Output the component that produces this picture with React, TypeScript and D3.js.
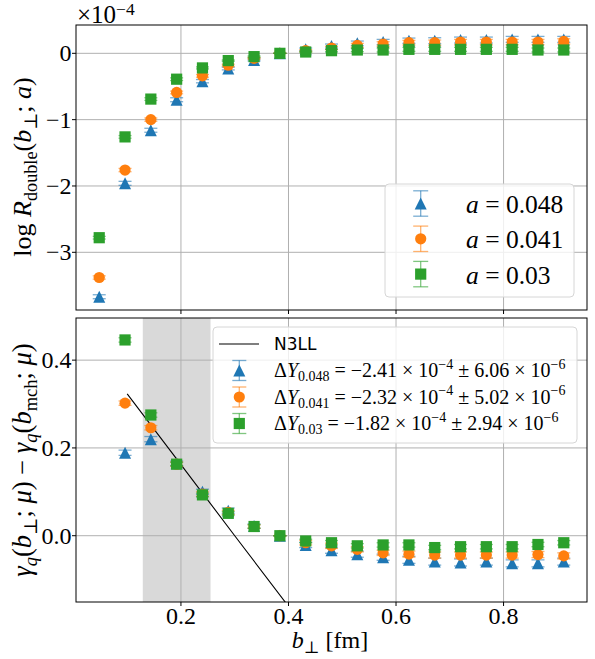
import React from "react";
import { scaleLinear, line } from "d3";

// b_perp values (fm)
const bTop = [0.048, 0.096, 0.144, 0.192, 0.24, 0.288, 0.336, 0.384, 0.432, 0.48, 0.528, 0.576, 0.624, 0.672, 0.72, 0.768, 0.816, 0.864, 0.912];
const bBot = [0.096, 0.144, 0.192, 0.24, 0.288, 0.336, 0.384, 0.432, 0.48, 0.528, 0.576, 0.624, 0.672, 0.72, 0.768, 0.816, 0.864, 0.912];

// log R_double, units of 1e-4
const logR048 = [-3.67, -1.96, -1.16, -0.7, -0.42, -0.23, -0.1, 0, 0.06, 0.11, 0.15, 0.17, 0.19, 0.19, 0.2, 0.2, 0.21, 0.21, 0.21];
const logR041 = [-3.38, -1.76, -1.0, -0.59, -0.34, -0.18, -0.075, 0, 0.04, 0.08, 0.12, 0.14, 0.16, 0.16, 0.17, 0.17, 0.17, 0.17, 0.18];
const logR030 = [-2.78, -1.26, -0.69, -0.39, -0.22, -0.11, -0.05, 0, 0.02, 0.04, 0.05, 0.05, 0.06, 0.06, 0.06, 0.06, 0.06, 0.05, 0.05];
const errTop048 = [0.03, 0.03, 0.03, 0.03, 0.025, 0.02, 0.015, 0, 0.02, 0.03, 0.035, 0.04, 0.04, 0.045, 0.045, 0.045, 0.045, 0.045, 0.045];
const errTop041 = [0.025, 0.025, 0.025, 0.02, 0.02, 0.015, 0.01, 0, 0.015, 0.025, 0.03, 0.035, 0.035, 0.04, 0.04, 0.04, 0.04, 0.04, 0.04];
const errTop030 = [0.02, 0.02, 0.02, 0.02, 0.015, 0.01, 0.01, 0, 0.01, 0.02, 0.025, 0.03, 0.03, 0.03, 0.03, 0.03, 0.03, 0.03, 0.03];

// gamma_q(b) - gamma_q(b_mch)
const gam048 = [0.189, 0.22, 0.165, 0.1, 0.057, 0.022, 0, -0.021, -0.033, -0.042, -0.049, -0.055, -0.059, -0.061, -0.059, -0.063, -0.063, -0.059];
const gam041 = [0.302, 0.246, 0.163, 0.095, 0.053, 0.021, 0, -0.016, -0.023, -0.031, -0.039, -0.042, -0.044, -0.044, -0.044, -0.044, -0.043, -0.046];
const gam030 = [0.446, 0.275, 0.163, 0.093, 0.051, 0.021, 0, -0.012, -0.016, -0.023, -0.021, -0.021, -0.027, -0.025, -0.025, -0.025, -0.02, -0.016];
const errBot048 = [0.006, 0.006, 0.005, 0.006, 0.006, 0.005, 0, 0.006, 0.007, 0.007, 0.007, 0.008, 0.008, 0.008, 0.008, 0.008, 0.008, 0.008];
const errBot041 = [0.005, 0.005, 0.005, 0.005, 0.005, 0.004, 0, 0.005, 0.006, 0.006, 0.006, 0.007, 0.007, 0.007, 0.007, 0.007, 0.007, 0.007];
const errBot030 = [0.005, 0.005, 0.004, 0.004, 0.004, 0.004, 0, 0.004, 0.005, 0.005, 0.005, 0.005, 0.005, 0.005, 0.005, 0.005, 0.005, 0.005];

// N3LL curve
const n3llB = [0.1, 0.2, 0.3, 0.4];
const n3llV = [0.323, 0.162, 0.0, -0.161];

// matching window
const band = [0.129, 0.255];

const xTicks = [0.2, 0.4, 0.6, 0.8];
const yTicksTop = [0, -1, -2, -3];
const yTicksBot = [0.0, 0.2, 0.4];

const C_BLUE = "#1f77b4";
const C_ORANGE = "#ff7f0e";
const C_GREEN = "#2ca02c";
const SERIF = "'Liberation Serif', 'DejaVu Serif', serif";

const L = 76, R = 587;
const TOP = { t: 25, b: 310 };
const BOT = { t: 318, b: 602 };

const x = scaleLinear().domain([0.0048, 0.9552]).range([L, R]);
const yTop = scaleLinear().domain([-3.87, 0.427]).range([TOP.b, TOP.t]);
const yBot = scaleLinear().domain([-0.151, 0.496]).range([BOT.b, BOT.t]);

type Seg = { t: string; it?: boolean; lvl?: number };

// crude math typesetting with tspans
const MathText = ({ segs, fs, supShift = 0.42, ...rest }: any) => {
  let cur = 0;
  return (
    <text fontFamily={SERIF} fontSize={fs} {...rest}>
      {segs.map((s: Seg, i: number) => {
        const lvl = s.lvl || 0;
        const off = lvl === -1 ? 0.22 * fs : lvl === 1 ? -supShift * fs : 0;
        const dy = off - cur;
        cur = off;
        return (
          <tspan key={i} dy={dy} fontStyle={s.it ? "italic" : "normal"} fontSize={lvl ? fs * 0.7 : fs}>
            {s.t}
          </tspan>
        );
      })}
    </text>
  );
};

const Marker = ({ kind, cx, cy, color }: any) => {
  if (kind === "tri") {
    const h = 6;
    return <path d={`M${cx},${cy - h}L${cx + h},${cy + h}L${cx - h},${cy + h}Z`} fill={color} />;
  }
  if (kind === "circ") return <circle cx={cx} cy={cy} r={5.6} fill={color} />;
  return <rect x={cx - 5.6} y={cy - 5.6} width={11.2} height={11.2} fill={color} />;
};

const ErrBar = ({ cx, y1, y2, color, cap = 6.5 }: any) => (
  <g stroke={color} strokeWidth={1.3} strokeOpacity={0.6}>
    <line x1={cx} x2={cx} y1={y1} y2={y2} />
    <line x1={cx - cap} x2={cx + cap} y1={y1} y2={y1} />
    <line x1={cx - cap} x2={cx + cap} y1={y2} y2={y2} />
  </g>
);

const Series = ({ bs, vs, es, ys, kind, color }: any) => (
  <g>
    {bs.map((b: number, i: number) => (
      <g key={i}>
        <ErrBar cx={x(b)} y1={ys(vs[i] + es[i])} y2={ys(vs[i] - es[i])} color={color} />
        <Marker kind={kind} cx={x(b)} cy={ys(vs[i])} color={color} />
      </g>
    ))}
  </g>
);

const Grid = ({ ys, ticks, t, b }: any) => (
  <g stroke="#b0b0b0" strokeWidth={1}>
    {xTicks.map((v) => (
      <line key={"x" + v} x1={x(v)} x2={x(v)} y1={t} y2={b} />
    ))}
    {ticks.map((v: number) => (
      <line key={"y" + v} x1={L} x2={R} y1={ys(v)} y2={ys(v)} />
    ))}
  </g>
);

const Ticks = ({ ys, ticks, b, labels, xLabels }: any) => (
  <g>
    <g stroke="#000" strokeWidth={1}>
      {xTicks.map((v) => (
        <line key={"x" + v} x1={x(v)} x2={x(v)} y1={b} y2={b + 4} />
      ))}
      {ticks.map((v: number) => (
        <line key={"y" + v} x1={L - 4} x2={L} y1={ys(v)} y2={ys(v)} />
      ))}
    </g>
    <g fontFamily={SERIF} fontSize={24} fill="#000">
      {ticks.map((v: number, i: number) => (
        <text key={"yl" + v} x={L - 4.5} y={ys(v) + 8} textAnchor="end">
          {labels[i]}
        </text>
      ))}
      {xLabels &&
        xTicks.map((v) => (
          <text key={"xl" + v} x={x(v)} y={b + 22} textAnchor="middle">
            {v.toFixed(1)}
          </text>
        ))}
    </g>
  </g>
);

const topLegend = [
  { kind: "tri", color: C_BLUE, val: "0.048" },
  { kind: "circ", color: C_ORANGE, val: "0.041" },
  { kind: "sq", color: C_GREEN, val: "0.03" },
];

const botLegend = [
  { kind: "tri", color: C_BLUE, sub: "0.048", m: "2.41", e: "6.06" },
  { kind: "circ", color: C_ORANGE, sub: "0.041", m: "2.32", e: "5.02" },
  { kind: "sq", color: C_GREEN, sub: "0.03", m: "1.82", e: "2.94" },
];

export default function App() {
  const n3ll = line<number>()
    .x((d, i) => x(n3llB[i]))
    .y((d) => yBot(d));

  return (
    <svg width={595} height={659} style={{ position: "absolute", left: 0, top: 0, background: "#fff" }}>
      <defs>
        <clipPath id="clipBot">
          <rect x={L} y={BOT.t} width={R - L} height={BOT.b - BOT.t} />
        </clipPath>
        <clipPath id="clipTop">
          <rect x={L} y={TOP.t} width={R - L} height={TOP.b - TOP.t} />
        </clipPath>
      </defs>

      {/* top panel */}
      <Grid ys={yTop} ticks={yTicksTop} t={TOP.t} b={TOP.b} />
      <g clipPath="url(#clipTop)">
        <Series bs={bTop} vs={logR048} es={errTop048} ys={yTop} kind="tri" color={C_BLUE} />
        <Series bs={bTop} vs={logR041} es={errTop041} ys={yTop} kind="circ" color={C_ORANGE} />
        <Series bs={bTop} vs={logR030} es={errTop030} ys={yTop} kind="sq" color={C_GREEN} />
      </g>
      <g>
        <rect x={385} y={184} width={189} height={113} rx={4} fill="#fff" fillOpacity={0.8} stroke="#d6d6d6" />
        {topLegend.map((d, i) => {
          const cy = 203.5 + i * 35.3;
          return (
            <g key={i}>
              <ErrBar cx={420.7} y1={cy - 12.7} y2={cy + 12.7} color={d.color} cap={7.5} />
              <Marker kind={d.kind} cx={420.7} cy={cy} color={d.color} />
              <MathText
                x={466}
                y={cy + 9.5}
                fs={25.5}
                segs={[{ t: "a", it: true }, { t: " = " + d.val }]}
              />
            </g>
          );
        })}
      </g>
      <rect x={L} y={TOP.t} width={R - L} height={TOP.b - TOP.t} fill="none" stroke="#000" strokeWidth={1} />
      <Ticks ys={yTop} ticks={yTicksTop} b={TOP.b} labels={["0", "\u22121", "\u22122", "\u22123"]} xLabels={false} />
      <MathText x={77} y={23} fs={25} supShift={0.34} segs={[{ t: "\u00d710" }, { t: "\u22124", lvl: 1 }]} />
      <MathText
        transform="translate(31,167) rotate(-90)"
        textAnchor="middle"
        fs={26}
        segs={[
          { t: "log " },
          { t: "R", it: true },
          { t: "double", lvl: -1 },
          { t: "(" },
          { t: "b", it: true },
          { t: "\u22a5", lvl: -1 },
          { t: "; " },
          { t: "a", it: true },
          { t: ")" },
        ]}
      />

      {/* bottom panel */}
      <g clipPath="url(#clipBot)">
        <rect x={x(band[0])} y={BOT.t} width={x(band[1]) - x(band[0])} height={BOT.b - BOT.t} fill="#d9d9d9" />
      </g>
      <Grid ys={yBot} ticks={yTicksBot} t={BOT.t} b={BOT.b} />
      <g clipPath="url(#clipBot)">
        <path d={n3ll(n3llV) || ""} fill="none" stroke="#000" strokeWidth={1.1} />
        <Series bs={bBot} vs={gam048} es={errBot048} ys={yBot} kind="tri" color={C_BLUE} />
        <Series bs={bBot} vs={gam041} es={errBot041} ys={yBot} kind="circ" color={C_ORANGE} />
        <Series bs={bBot} vs={gam030} es={errBot030} ys={yBot} kind="sq" color={C_GREEN} />
      </g>
      <g>
        <rect x={213} y={327} width={364} height={116} rx={4} fill="#fff" fillOpacity={0.8} stroke="#d6d6d6" />
        <line x1={219} x2={259} y1={344} y2={344} stroke="#000" strokeWidth={1.1} />
        <text x={274} y={350} fontFamily="'DejaVu Sans', sans-serif" fontSize={17}>
          N3LL
        </text>
        {botLegend.map((d, i) => {
          const cy = 370.5 + i * 26.5;
          return (
            <g key={i}>
              <ErrBar cx={239.3} y1={cy - 10} y2={cy + 10} color={d.color} cap={7} />
              <Marker kind={d.kind} cx={239.3} cy={cy} color={d.color} />
              <MathText
                x={274}
                y={cy + 6.5}
                fs={20}
                segs={[
                  { t: "\u0394" },
                  { t: "Y", it: true },
                  { t: d.sub, lvl: -1 },
                  { t: " = \u2212" + d.m + " \u00d7 10" },
                  { t: "\u22124", lvl: 1 },
                  { t: " \u00b1 " + d.e + " \u00d7 10" },
                  { t: "\u22126", lvl: 1 },
                ]}
              />
            </g>
          );
        })}
      </g>
      <rect x={L} y={BOT.t} width={R - L} height={BOT.b - BOT.t} fill="none" stroke="#000" strokeWidth={1} />
      <Ticks ys={yBot} ticks={yTicksBot} b={BOT.b} labels={["0.0", "0.2", "0.4"]} xLabels={true} />
      <MathText
        transform="translate(31,460) rotate(-90)"
        textAnchor="middle"
        fs={26.5}
        segs={[
          { t: "\u03b3", it: true },
          { t: "q", it: true, lvl: -1 },
          { t: "(" },
          { t: "b", it: true },
          { t: "\u22a5", lvl: -1 },
          { t: "; " },
          { t: "\u03bc", it: true },
          { t: ") \u2212 " },
          { t: "\u03b3", it: true },
          { t: "q", it: true, lvl: -1 },
          { t: "(" },
          { t: "b", it: true },
          { t: "mch", lvl: -1 },
          { t: "; " },
          { t: "\u03bc", it: true },
          { t: ")" },
        ]}
      />
      <MathText
        x={330}
        y={648}
        textAnchor="middle"
        fs={24}
        segs={[{ t: "b", it: true }, { t: "\u22a5", lvl: -1 }, { t: " [fm]" }]}
      />
    </svg>
  );
}
